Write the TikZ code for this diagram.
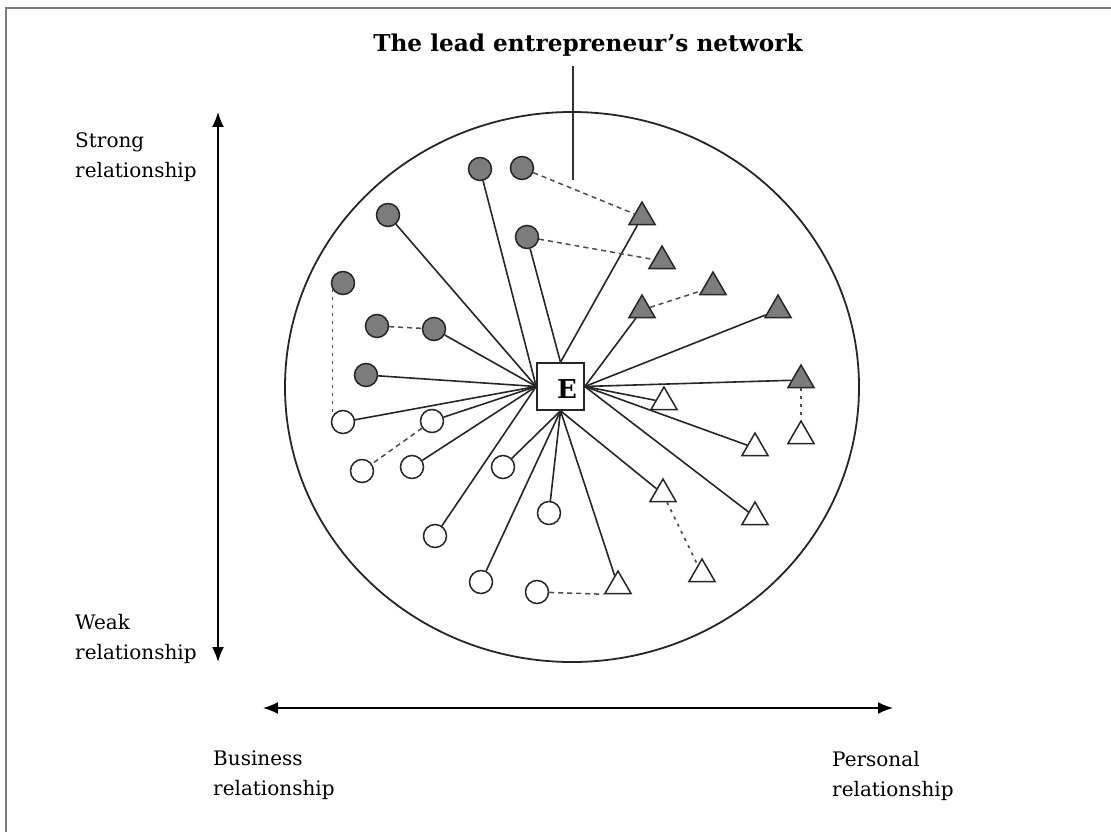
\documentclass[tikz,border=0pt]{standalone}
\usepackage{fontspec}
\setmainfont{DejaVu Serif}
\usetikzlibrary{shapes.geometric,arrows.meta}
\definecolor{nodegray}{HTML}{7C7C7C}
\definecolor{framegray}{HTML}{7A7A7A}
\begin{document}
\begin{tikzpicture}[x=1pt,y=-1pt,
  gcirc/.style={circle, draw=black!85, line width=1.5pt, fill=nodegray, minimum size=23pt, inner sep=0pt},
  wcirc/.style={circle, draw=black!85, line width=1.5pt, fill=white, minimum size=23pt, inner sep=0pt},
  gtri/.style={regular polygon, regular polygon sides=3, draw=black!85, line width=1.5pt, fill=nodegray, minimum size=30pt, inner sep=0pt},
  wtri/.style={regular polygon, regular polygon sides=3, draw=black!85, line width=1.5pt, fill=white, minimum size=30pt, inner sep=0pt},
  link/.style={line width=1.6pt, draw=black!85},
  dlink/.style={line width=1.5pt, draw=black!70, dash pattern=on 5pt off 4pt},
  dotlink/.style={line width=1.7pt, draw=black!70, dash pattern=on 3pt off 5pt},
  lbl/.style={font=\fontsize{20}{30}\selectfont, align=left, inner sep=0pt, anchor=base west},
  axis/.style={line width=1.6pt, {Latex[length=15pt,width=12pt]}-{Latex[length=15pt,width=12pt]}}
]
\useasboundingbox (0,0) rectangle (1111,832);
\fill[white] (0,0) rectangle (1111,832);
% frame
\coordinate (frbl) at (6,832);
\coordinate (frtl) at (6,8);
\coordinate (frtr) at (1111,8);
\draw[framegray, line width=2.5pt] (frbl) -- (frtl) -- (frtr);

% title and callout
\node[font=\fontsize{23.2}{26}\selectfont\bfseries, anchor=base, inner sep=0pt] (title) at (588,52) {The lead entrepreneur’s network};
\coordinate (calltop) at (573,66);
\coordinate (callbot) at (573,180);
\draw[line width=1.4pt, black!80] (calltop) -- (callbot);

% network boundary
\node[ellipse, draw=black!85, line width=1.8pt, minimum width=574pt, minimum height=550pt, inner sep=0pt] (net) at (572,387) {};

% axes
\coordinate (vtop) at (218,112);
\coordinate (vbot) at (218,662);
\draw[axis] (vtop) -- (vbot);
\coordinate (hleft) at (263,708);
\coordinate (hright) at (893,708);
\draw[axis] (hleft) -- (hright);

\node[lbl] (strong) at (75,177) {Strong\\relationship};
\node[lbl] (weak) at (75,659) {Weak\\relationship};
\node[lbl] (business) at (213,795) {Business\\relationship};
\node[lbl] (personal) at (832,796) {Personal\\relationship};

% entrepreneur
\node[draw=black!85, line width=1.6pt, fill=white, minimum size=47pt, inner sep=0pt] (E) at (560.5,386.5) {};
\node[font=\fontsize{26}{26}\selectfont\bfseries, inner sep=0pt] (Etext) at (567,389) {E};

% grey circles
\node[gcirc] (g1) at (480,169) {};
\node[gcirc] (g2) at (522,168) {};
\node[gcirc] (g3) at (388,215) {};
\node[gcirc] (g4) at (527,237) {};
\node[gcirc] (g5) at (343,283) {};
\node[gcirc] (g6) at (377,326) {};
\node[gcirc] (g7) at (434,329) {};
\node[gcirc] (g8) at (366,375) {};
% white circles
\node[wcirc] (w1) at (343,422) {};
\node[wcirc] (w2) at (432,421) {};
\node[wcirc] (w3) at (362,471) {};
\node[wcirc] (w4) at (412,467) {};
\node[wcirc] (w5) at (503,467) {};
\node[wcirc] (w6) at (549,513) {};
\node[wcirc] (w7) at (435,536) {};
\node[wcirc] (w8) at (481,582) {};
\node[wcirc] (w9) at (537,592) {};
% grey triangles
\node[gtri] (t1) at (642,217) {};
\node[gtri] (t2) at (662,261) {};
\node[gtri] (t3) at (713,287) {};
\node[gtri] (t4) at (642,310) {};
\node[gtri] (t5) at (778,310) {};
\node[gtri] (t6) at (801,380) {};
% white triangles
\node[wtri] (u1) at (664,402) {};
\node[wtri] (u2) at (801,436) {};
\node[wtri] (u3) at (755,448) {};
\node[wtri] (u4) at (663,494) {};
\node[wtri] (u7) at (755,517) {};
\node[wtri] (u5) at (702,574) {};
\node[wtri] (u6) at (618,586) {};

% solid ties
\foreach \n in {g1,g3,g7,g8,w1,w2,w4,w7} \draw[link] (\n) -- (E.west);
\foreach \n in {g4,t1} \draw[link] (\n) -- (E.north);
\foreach \n in {t4,t5,t6,u1,u3,u7} \draw[link] (\n) -- (E.east);
\foreach \n in {w5,w6,w8,u6,u4} \draw[link] (\n) -- (E.south);

% weak ties between contacts
\draw[dlink] (g2) -- (t1);
\draw[dlink] (g4) -- (t2);
\draw[dlink] (t4) -- (t3);
\draw[dlink] (g6) -- (g7);
\draw[dlink] (w2) -- (w3);
\draw[dlink] (w9) -- (u6.corner 2);
\draw[dotlink] (g5.-150) -- (w1.150);
\draw[dotlink] (t6) -- (u2);
\draw[dotlink] (u4) -- (u5);
\end{tikzpicture}
\end{document}
